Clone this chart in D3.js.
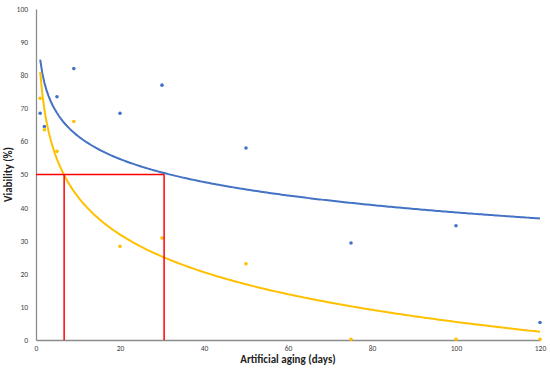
<!DOCTYPE html>
<html lang="en">
<head>
<meta charset="utf-8">
<title>Viability vs artificial aging</title>
<script src="https://cdn.jsdelivr.net/npm/d3@7"></script>
<style>
  body { margin: 0; background: #fff; }
  svg text { font-family: Calibri, Carlito, "Liberation Sans", sans-serif; }
  .tick text { font-size: 7.5px; fill: #444; }
  .axis-title { font-size: 11px; fill: #222; font-weight: 600; }
</style>
</head>
<body>
<script>
// data
var days = [1, 2, 5, 9, 20, 30, 50, 75, 100, 120];
var blueValues = [68.5, 64.5, 73.5, 82, 68.5, 77, 58, 29.3, 34.5, 5.3];
var yellowValues = [73, 63.5, 57, 66, 28.3, 30.8, 23, 0.2, 0.2, 0.2];
var xTicks = [0, 20, 40, 60, 80, 100, 120];
var yTicks = [0, 10, 20, 30, 40, 50, 60, 70, 80, 90, 100];
var halfLevel = 50;
var halfDays = [6.7, 30.5];   // where the red guides drop to the x axis

var w = 550, h = 373;
var margin = {top: 9, right: 10, bottom: 33, left: 36};

var svg = d3.select("body").append("svg")
  .attr("width", w).attr("height", h);

var x = d3.scaleLinear().domain([0, 120]).range([margin.left, w - margin.right]);
var y = d3.scaleLinear().domain([0, 100]).range([h - margin.bottom, margin.top]);

// log trendline y = a + b ln(x), least squares
function logFit(xs, ys) {
  var lx = xs.map(Math.log);
  var mx = d3.mean(lx), my = d3.mean(ys);
  var sxy = d3.sum(lx, function (v, i) { return (v - mx) * (ys[i] - my); });
  var sxx = d3.sum(lx, function (v) { return (v - mx) * (v - mx); });
  var b = sxy / sxx;
  var a = my - b * mx;
  return function (t) { return a + b * Math.log(t); };
}

// axes
var xAxis = svg.append("g")
  .attr("transform", "translate(0," + y(0) + ")")
  .call(d3.axisBottom(x).tickValues(xTicks).tickSize(0).tickPadding(6));
var yAxis = svg.append("g")
  .attr("transform", "translate(" + x(0) + ",0)")
  .call(d3.axisLeft(y).tickValues(yTicks).tickSize(0).tickPadding(8));
[xAxis, yAxis].forEach(function (g) {
  g.select(".domain").attr("stroke", "#8c8c8c").attr("stroke-width", 1.3);
});

var series = [
  {values: blueValues, color: "#4472C4"},
  {values: yellowValues, color: "#FFC000"}
];

var grid = d3.range(1, 120.01, 0.5);
var line = d3.line()
  .x(function (d) { return x(d[0]); })
  .y(function (d) { return y(d[1]); });

series.forEach(function (s) {
  var f = logFit(days, s.values);
  svg.append("path")
    .datum(grid.map(function (t) { return [t, f(t)]; }))
    .attr("d", line)
    .attr("fill", "none")
    .attr("stroke", s.color)
    .attr("stroke-width", 2);

  svg.append("g").selectAll("circle")
    .data(s.values)
    .enter()
    .append("circle")
    .attr("cx", function (d, i) { return x(days[i]); })
    .attr("cy", function (d) { return y(d); })
    .attr("r", 1.8)
    .attr("fill", s.color);
});

// red guides at 50 % viability
svg.append("line")
  .attr("x1", x(0)).attr("x2", x(d3.max(halfDays)))
  .attr("y1", y(halfLevel)).attr("y2", y(halfLevel))
  .attr("stroke", "#FF0000").attr("stroke-width", 1.5);
svg.selectAll(".drop")
  .data(halfDays)
  .enter()
  .append("line")
  .attr("class", "drop")
  .attr("x1", function (d) { return x(d); })
  .attr("x2", function (d) { return x(d); })
  .attr("y1", y(halfLevel)).attr("y2", y(0))
  .attr("stroke", "#FF0000").attr("stroke-width", 1.5);

// titles
svg.append("text")
  .attr("class", "axis-title")
  .attr("text-anchor", "middle")
  .attr("x", (x(0) + x(120)) / 2)
  .attr("y", h - 10)
  .text("Artificial aging (days)");
svg.append("text")
  .attr("class", "axis-title")
  .attr("text-anchor", "middle")
  .attr("transform", "translate(12," + y(50) + ") rotate(-90)")
  .text("Viability (%)");
</script>
</body>
</html>
